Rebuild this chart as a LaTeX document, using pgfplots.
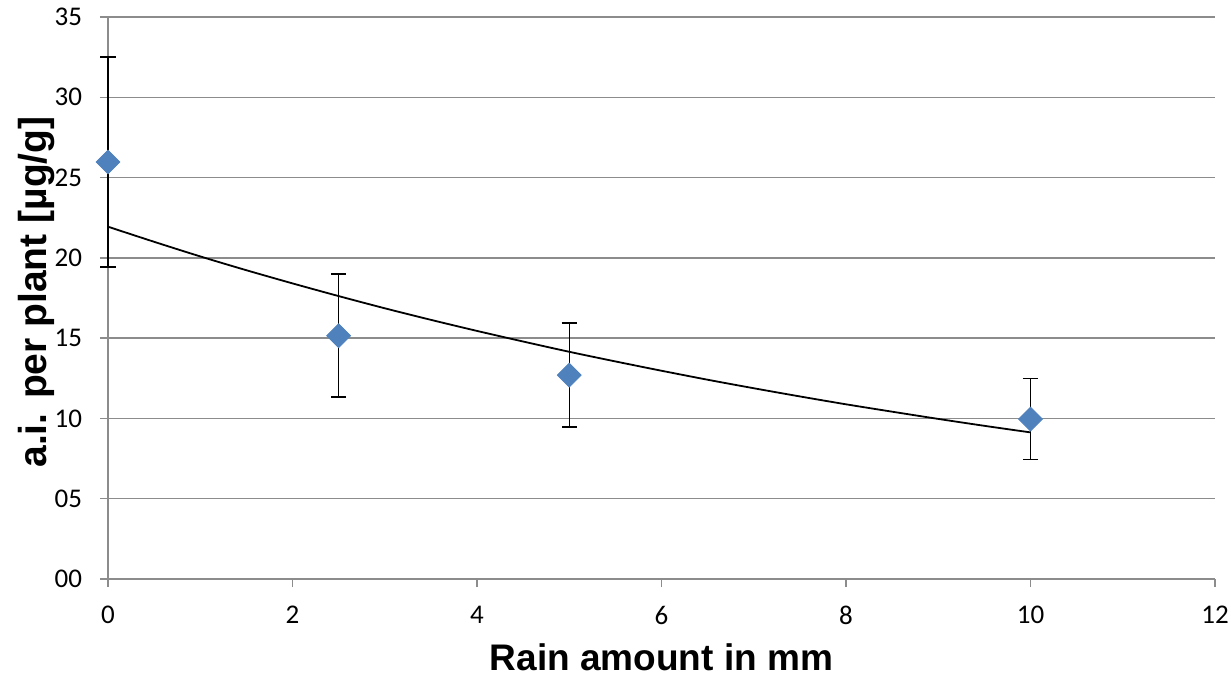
\documentclass[border=0pt]{standalone}
\usepackage{fontspec}
\setmainfont{Carlito}
\newfontfamily\labelfont{Liberation Sans}
\usepackage{pgfplots}
\pgfplotsset{compat=1.18}
\definecolor{markblue}{HTML}{4F81BD}
\definecolor{gridgray}{HTML}{8C8C8C}
\begin{document}
\begin{tikzpicture}
\begin{axis}[
    name=ax,
    scale only axis,
    width=553.5pt, height=281pt,
    xmin=0, xmax=12, ymin=0, ymax=35,
    xtick={0,2,4,6,8,10,12},
    xticklabels={0,2,4,6,8,10,12},
    ytick={0,5,10,15,20,25,30,35},
    yticklabels={00,05,10,15,20,25,30,35},
    axis x line*=bottom, axis y line*=left,
    axis line style={draw=gridgray, line width=0.75pt, -},
    tick align=outside,
    major tick length=4pt,
    tick style={draw=gridgray, line width=0.75pt},
    ymajorgrids,
    grid style={draw=gridgray, line width=0.75pt},
    ticklabel style={font=\fontsize{13.5}{16}\selectfont},
    yticklabel style={xshift=-5.5pt},
    xticklabel style={yshift=-6pt},
    xlabel={Rain amount in mm},
    ylabel={a.i. per plant [µg/g]},
    every axis x label/.style={at={(axis description cs:0.5,0)}, anchor=center, yshift=-39pt,
        font=\labelfont\bfseries\fontsize{18.5}{20}\selectfont},
    every axis y label/.style={at={(axis description cs:0,0.5)}, xshift=-35.5pt, yshift=3pt, anchor=center, rotate=90,
        font=\labelfont\bfseries\fontsize{19.5}{21}\selectfont},
    clip=false,
]
% trendline (exponential)
\addplot[black, line width=0.9pt, smooth] coordinates {
    (0,21.94) (0.5,21.00) (1,20.09) (1.5,19.23) (2,18.41) (2.5,17.62)
    (3,16.86) (3.5,16.14) (4,15.45) (4.5,14.79) (5,14.15) (5.5,13.55)
    (6,12.97) (6.5,12.41) (7,11.88) (7.5,11.37) (8,10.88) (8.5,10.42)
    (9,9.97) (9.5,9.54) (10,9.13)
};
% data with error bars
\addplot[only marks, mark=square*, mark size=4.2pt,
    mark options={rotate=45, fill=markblue, draw=markblue},
    error bars/.cd, y dir=both, y explicit,
    error bar style={black, line width=0.75pt},
    error mark options={black, rotate=90, mark size=3.8pt, line width=0.75pt}]
coordinates {
    (0,25.97) +- (0,6.55)
    (2.5,15.15) +- (0,3.83)
    (5,12.70) +- (0,3.23)
    (10,9.96) +- (0,2.52)
};
\end{axis}
\pgfresetboundingbox
\path ([shift={(-54pt,-48pt)}]ax.south west) rectangle ([shift={(8pt,8.5pt)}]ax.north east);
\end{tikzpicture}
\end{document}
